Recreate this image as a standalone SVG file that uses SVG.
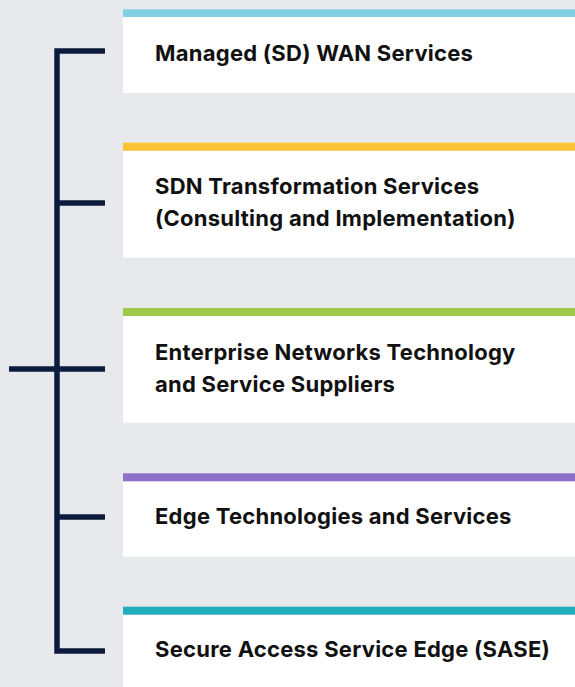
<svg xmlns="http://www.w3.org/2000/svg" width="575" height="687" viewBox="0 0 575 687">
  <style>
    .bg { fill: #e8e9ed; }
    .card { fill: #ffffff; }
    .lbl { font-family: Inter, "Liberation Sans", Arial, sans-serif; font-weight: 700; font-size: 22px; letter-spacing: 0.25px; fill: #111111; }
    .br { fill: none; stroke: #0c1b3d; stroke-width: 5.5; stroke-linejoin: miter; stroke-linecap: butt; }
  </style>
  <rect class="bg" x="0" y="0" width="575" height="687"/>

  <g id="connectors">
    <path class="br" d="M105,51 H57 V651 H105"/>
    <path class="br" d="M57,203 H105"/>
    <path class="br" d="M9,369 H105"/>
    <path class="br" d="M57,517 H105"/>
  </g>

  <g id="node-wan">
    <rect class="card" x="123" y="17" width="452" height="76"/>
    <rect x="123" y="9.3" width="452" height="7.7" fill="#80cfe3"/>
    <text class="lbl" x="155" y="60.5">Managed (SD) WAN Services</text>
  </g>

  <g id="node-sdn">
    <rect class="card" x="123" y="150.7" width="452" height="107"/>
    <rect x="123" y="142.7" width="452" height="8" fill="#ffc331"/>
    <text class="lbl" x="155" y="193.5">SDN Transformation Services</text>
    <text class="lbl" x="155" y="226">(Consulting and Implementation)</text>
  </g>

  <g id="node-enterprise">
    <rect class="card" x="123" y="316" width="452" height="106.7"/>
    <rect x="123" y="308" width="452" height="8" fill="#9fc84a"/>
    <text class="lbl" x="155" y="359.5">Enterprise Networks Technology</text>
    <text class="lbl" x="155" y="391.5">and Service Suppliers</text>
  </g>

  <g id="node-edge">
    <rect class="card" x="123" y="481.3" width="452" height="75.4"/>
    <rect x="123" y="473.3" width="452" height="8" fill="#8f70c9"/>
    <text class="lbl" x="155" y="524">Edge Technologies and Services</text>
  </g>

  <g id="node-sase">
    <rect class="card" x="123" y="614.7" width="452" height="72.3"/>
    <rect x="123" y="606.7" width="452" height="8" fill="#20aeba"/>
    <text class="lbl" x="155" y="656.5">Secure Access Service Edge (SASE)</text>
  </g>
</svg>
